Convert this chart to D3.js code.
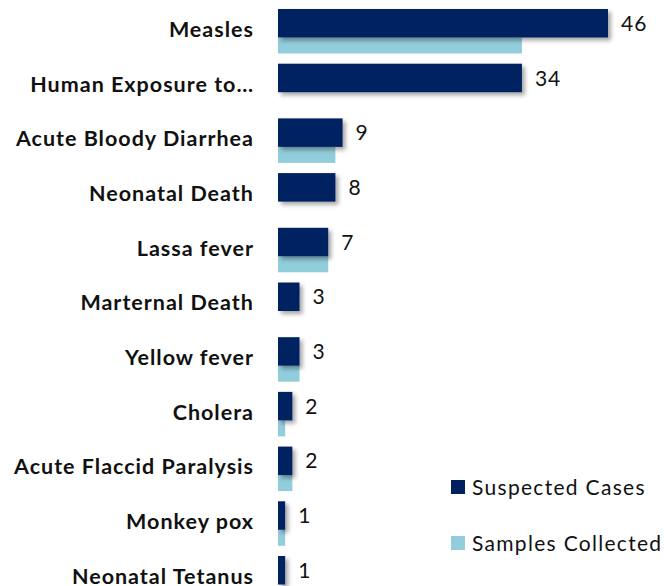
<!DOCTYPE html>
<html>
<head>
<meta charset="utf-8">
<script src="https://cdn.jsdelivr.net/npm/d3@7"></script>
<style>
  body { margin: 0; background: #fff; }
  svg { display: block; }
</style>
</head>
<body>
<svg width="664" height="586"></svg>
<script>
  // data
  var categories = ["Measles", "Human Exposure to…", "Acute Bloody Diarrhea", "Neonatal Death",
    "Lassa fever", "Marternal Death", "Yellow fever", "Cholera", "Acute Flaccid Paralysis",
    "Monkey pox", "Neonatal Tetanus"];
  var suspected = [46, 34, 9, 8, 7, 3, 3, 2, 2, 1, 1];
  var samples = [34, 0, 8, 0, 7, 0, 3, 1, 2, 1, 0];
  var seriesNames = ["Suspected Cases", "Samples Collected"];
  var colors = ["#002060", "#92cddc"];

  var svg = d3.select("svg");
  var font = "Lato, 'Open Sans', sans-serif";

  var x = d3.scaleLinear().domain([0, 46]).range([278, 608]);
  var y = d3.scaleBand().domain(categories).range([9, 9 + 54.7 * categories.length]).padding(0);

  var darkH = 28.5, lightH = 16;

  // drop shadow for the dark bars
  var defs = svg.append("defs");
  var f = defs.append("filter").attr("id", "shadow")
    .attr("x", "-20%").attr("y", "-20%").attr("width", "150%").attr("height", "160%");
  f.append("feDropShadow").attr("dx", 3).attr("dy", 3).attr("stdDeviation", 2)
    .attr("flood-color", "#000").attr("flood-opacity", 0.35);

  // light bars first so the dark shadow lies over them
  svg.append("g").selectAll("rect")
    .data(categories)
    .join("rect")
    .attr("x", x(0))
    .attr("y", function(d) { return y(d) + darkH; })
    .attr("width", function(d, i) { return x(samples[i]) - x(0); })
    .attr("height", lightH)
    .attr("fill", colors[1]);

  svg.append("g").attr("filter", "url(#shadow)").selectAll("rect")
    .data(categories)
    .join("rect")
    .attr("x", x(0))
    .attr("y", function(d) { return y(d); })
    .attr("width", function(d, i) { return x(suspected[i]) - x(0); })
    .attr("height", darkH)
    .attr("fill", colors[0]);

  // value labels
  svg.append("g").selectAll("text")
    .data(categories)
    .join("text")
    .attr("x", function(d, i) { return x(suspected[i]) + 13; })
    .attr("y", function(d) { return y(d) + darkH / 2; })
    .attr("dy", "0.36em")
    .attr("font-family", font)
    .attr("font-size", "21px")
    .attr("letter-spacing", "1px")
    .attr("fill", "#111")
    .text(function(d, i) { return suspected[i]; });

  // category axis
  var axis = svg.append("g")
    .attr("transform", "translate(" + (x(0) - 24) + ",0)")
    .call(d3.axisLeft(y).tickSize(0).tickPadding(0));
  axis.select(".domain").remove();
  axis.selectAll("text")
    .attr("font-family", font)
    .attr("font-size", "21.5px")
    .attr("font-weight", "bold")
    .attr("letter-spacing", "1px")
    .attr("fill", "#111")
    .attr("dy", "0.35em")
    .attr("transform", "translate(0," + (-7) + ")");

  // legend
  var legend = svg.append("g").selectAll("g")
    .data(seriesNames)
    .join("g")
    .attr("transform", function(d, i) { return "translate(451," + (480 + i * 56) + ")"; });
  legend.append("rect").attr("width", 14).attr("height", 14)
    .attr("fill", function(d, i) { return colors[i]; });
  legend.append("text")
    .attr("x", 21).attr("y", 7).attr("dy", "0.36em")
    .attr("font-family", font)
    .attr("font-size", "21px")
    .attr("letter-spacing", "1.3px")
    .attr("fill", "#111")
    .text(function(d) { return d; });
</script>
</body>
</html>
